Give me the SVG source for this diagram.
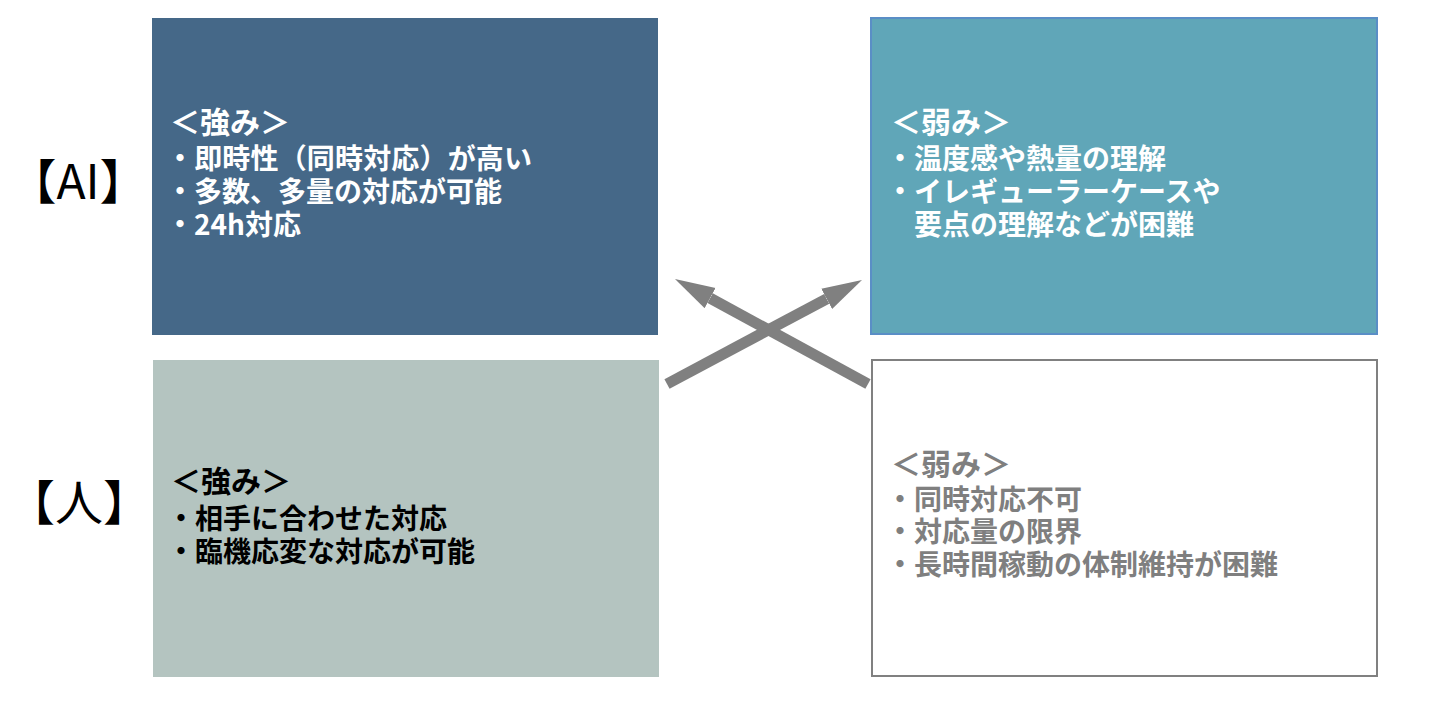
<svg xmlns="http://www.w3.org/2000/svg" width="1444" height="701" viewBox="0 0 1444 701">
<style>
.t{font-family:"Noto Sans CJK JP","Noto Sans",sans-serif;font-weight:bold;font-size:28px}
.h{font-size:30px}
.w{fill:#FFFFFF}
.k{fill:#000000}
.g{fill:#7F7F7F}
.lab{font-family:"Noto Sans CJK JP","Noto Sans",sans-serif;font-size:48px;fill:#000000}
.arr{stroke:#808080;stroke-width:11;fill:none;stroke-linecap:butt}
</style>
<defs>
<marker id="ah" markerUnits="userSpaceOnUse" markerWidth="40" markerHeight="24" viewBox="0 -12 40 24" refX="0" refY="0" orient="auto">
<path d="M0,-11.5 L40,0 L0,11.5 z" fill="#808080"/>
</marker>
</defs>
<rect width="1444" height="701" fill="#FFFFFF"/>
<g id="label-ai"><text class="lab" x="78" y="199" text-anchor="middle">【AI】</text></g>
<g id="label-human"><text class="lab" x="79" y="520" text-anchor="middle">【人】</text></g>
<g id="ai-strength">
<rect x="152" y="18" width="506" height="317" fill="#456888"/>
<text class="t h w" x="170" y="133">＜強み＞</text>
<text class="t w" x="166" y="169" textLength="366" lengthAdjust="spacing">・即時性（同時対応）が高い</text>
<text class="t w" x="166" y="202">・多数、多量の対応が可能</text>
<text class="t w" x="166" y="235">・24h対応</text>
</g>
<g id="ai-weakness">
<rect x="871" y="18" width="506" height="316" fill="#60A6B8" stroke="#5A8EC6" stroke-width="2"/>
<text class="t h w" x="891" y="133">＜弱み＞</text>
<text class="t w" x="886" y="169">・温度感や熱量の理解</text>
<text class="t w" x="886" y="202">・イレギューラーケースや</text>
<text class="t w" x="914" y="235">要点の理解などが困難</text>
</g>
<g id="human-strength">
<rect x="153" y="360" width="506" height="317" fill="#B4C4C0"/>
<text class="t h k" x="171" y="492">＜強み＞</text>
<text class="t k" x="167" y="529">・相手に合わせた対応</text>
<text class="t k" x="167" y="562">・臨機応変な対応が可能</text>
</g>
<g id="human-weakness">
<rect x="872" y="360" width="505" height="316" fill="#FFFFFF" stroke="#808080" stroke-width="2"/>
<text class="t h g" x="891" y="475">＜弱み＞</text>
<text class="t g" x="886" y="510">・同時対応不可</text>
<text class="t g" x="886" y="542">・対応量の限界</text>
<text class="t g" x="886" y="575">・長時間稼動の体制維持が困難</text>
</g>
<g id="connectors">
<line class="arr" x1="667" y1="384" x2="826.7" y2="298.8" marker-end="url(#ah)"/>
<line class="arr" x1="868" y1="384" x2="710.1" y2="298.1" marker-end="url(#ah)"/>
</g>
</svg>
